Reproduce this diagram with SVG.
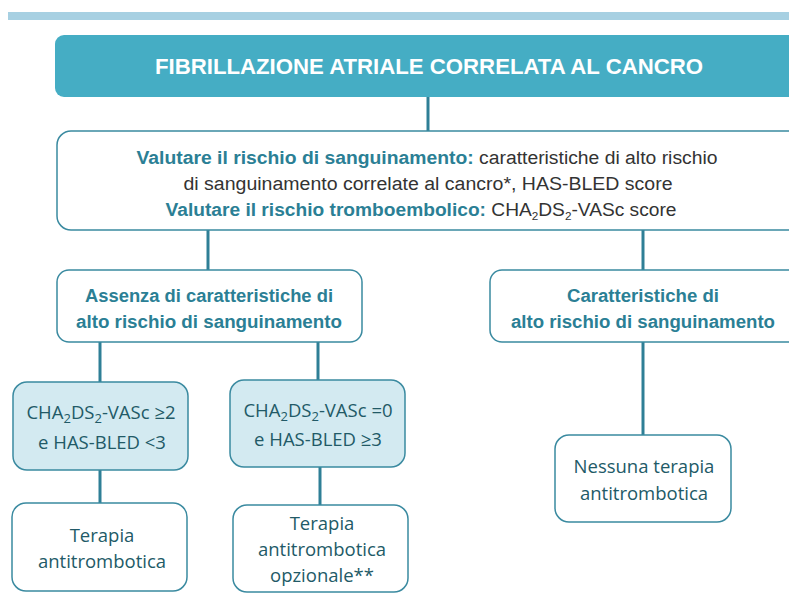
<svg xmlns="http://www.w3.org/2000/svg" width="789" height="607" viewBox="0 0 789 607">
<style>
.wb{fill:#fff;stroke:#3a8aa0;stroke-width:1.5}
.lb{fill:#d3eaf1;stroke:#3a8aa0;stroke-width:1.5}
.conn line{stroke:#2f7f96;stroke-width:3}
.up{font-family:"Liberation Sans",Arial,sans-serif;font-size:18px;fill:#333;text-anchor:middle}
.bt{font-weight:bold;fill:#2b7f95}
.lo{font-family:"Open Sans","Liberation Sans",sans-serif;font-size:18.5px;fill:#225a67;text-anchor:middle}
</style>
<rect x="8" y="12" width="781" height="8" fill="#a7d0e2"/>
<g id="connectors" class="conn">
<line x1="428" y1="97" x2="428" y2="132"/>
<line x1="208" y1="230" x2="208" y2="270"/>
<line x1="643" y1="230" x2="643" y2="270"/>
<line x1="100" y1="342" x2="100" y2="382"/>
<line x1="318" y1="342" x2="318" y2="380"/>
<line x1="643" y1="342" x2="643" y2="435"/>
<line x1="100" y1="470" x2="100" y2="503"/>
<line x1="320" y1="467" x2="320" y2="505"/>
</g>
<g id="title">
<rect x="55" y="35" width="760" height="62" rx="9" fill="#45adc4"/>
<text x="429" y="74" font-family="'Liberation Sans',Arial,sans-serif" font-size="22.5" font-weight="bold" fill="#fff" text-anchor="middle" textLength="548" lengthAdjust="spacingAndGlyphs">FIBRILLAZIONE ATRIALE CORRELATA AL CANCRO</text>
</g>
<g id="assess">
<rect class="wb" x="57" y="131" width="760" height="99" rx="14"/>
<text class="up" x="427" y="164" textLength="581" lengthAdjust="spacingAndGlyphs"><tspan class="bt">Valutare il rischio di sanguinamento:</tspan> caratteristiche di alto rischio</text>
<text class="up" x="428" y="190" textLength="489" lengthAdjust="spacingAndGlyphs">di sanguinamento correlate al cancro*, HAS-BLED score</text>
<text class="up" x="421" y="216" textLength="511" lengthAdjust="spacingAndGlyphs"><tspan class="bt">Valutare il rischio tromboembolico:</tspan> CHA<tspan font-size="11" dy="4">2</tspan><tspan dy="-4">DS</tspan><tspan font-size="11" dy="4">2</tspan><tspan dy="-4">-VASc score</tspan></text>
</g>
<g id="absence">
<rect class="wb" x="57" y="270" width="305" height="72" rx="12"/>
<text class="up bt" x="209" y="302" textLength="248" lengthAdjust="spacingAndGlyphs">Assenza di caratteristiche di</text>
<text class="up bt" x="209" y="328" textLength="266" lengthAdjust="spacingAndGlyphs">alto rischio di sanguinamento</text>
</g>
<g id="presence">
<rect class="wb" x="490" y="270" width="320" height="72" rx="12"/>
<text class="up bt" x="643" y="302" textLength="152" lengthAdjust="spacingAndGlyphs">Caratteristiche di</text>
<text class="up bt" x="643" y="328" textLength="264" lengthAdjust="spacingAndGlyphs">alto rischio di sanguinamento</text>
</g>
<g id="high-score">
<rect class="lb" x="13" y="382" width="175" height="88" rx="14"/>
<text class="lo" x="101" y="419">CHA<tspan font-size="13" dy="4">2</tspan><tspan dy="-4">DS</tspan><tspan font-size="13" dy="4">2</tspan><tspan dy="-4">-VASc ≥2</tspan></text>
<text class="lo" x="102" y="449">e HAS-BLED &lt;3</text>
</g>
<g id="zero-score">
<rect class="lb" x="230" y="380" width="175" height="87" rx="14"/>
<text class="lo" x="318" y="417">CHA<tspan font-size="13" dy="4">2</tspan><tspan dy="-4">DS</tspan><tspan font-size="13" dy="4">2</tspan><tspan dy="-4">-VASc =0</tspan></text>
<text class="lo" x="318" y="446">e HAS-BLED ≥3</text>
</g>
<g id="therapy">
<rect class="wb" x="12" y="503" width="175" height="88" rx="14"/>
<text class="lo" x="102" y="542">Terapia</text>
<text class="lo" x="102" y="568">antitrombotica</text>
</g>
<g id="optional">
<rect class="wb" x="233" y="505" width="175" height="87" rx="14"/>
<text class="lo" x="322" y="530">Terapia</text>
<text class="lo" x="322" y="556">antitrombotica</text>
<text class="lo" x="322" y="582">opzionale**</text>
</g>
<g id="none">
<rect class="wb" x="555" y="435" width="176" height="87" rx="14"/>
<text class="lo" x="644" y="473">Nessuna terapia</text>
<text class="lo" x="644" y="500">antitrombotica</text>
</g>
</svg>
